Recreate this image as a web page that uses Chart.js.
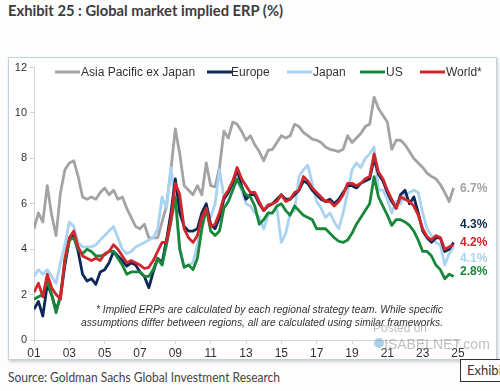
<!DOCTYPE html>
<html>
<head>
<meta charset="utf-8">
<script src="https://cdn.jsdelivr.net/npm/chart.js@4.4.1/dist/chart.umd.min.js"></script>
<style>
    html, body { margin: 0; padding: 0; background: #fdfdfd; }
    body { width: 500px; height: 391px; position: relative; overflow: hidden; }
    #title { position: absolute; left: 8px; top: 0; font: bold 16px Lato, "Liberation Sans", sans-serif; line-height: 20px; color: #3c3c3c; white-space: nowrap; transform-origin: 0 0; }
    #frame { position: absolute; left: 8px; top: 57px; width: 487px; height: 301px; border: 1px solid #c4d0dc; box-shadow: 1px 2px 3px rgba(60, 80, 100, 0.25); background: #fff; }
    #chart { position: absolute; left: 0; top: 0; }
    #source { position: absolute; left: 8px; top: 369px; font: 14px Lato, "Liberation Sans", sans-serif; line-height: 16px; color: #444; white-space: nowrap; transform-origin: 0 0; }
    #tag { position: absolute; left: 460px; top: 359px; width: 50px; height: 23px; border: 1px solid #333; background: #fff; box-sizing: border-box; font: 13px Lato, sans-serif; line-height: 21px; color: #333; padding-left: 6px; }
</style>
</head>
<body>
<div id="title">Exhibit 25 : Global market implied ERP (%)</div>
<div id="frame"><canvas id="chart" width="487" height="301"></canvas></div>
<div id="source">Source: Goldman Sachs Global Investment Research</div>
<div id="tag">Exhibit</div>
<script>
// quarterly observations, 2001 Q1 .. 2024 Q4
const quarters = [];
for (let y = 2001; y < 2025; y++) {
    for (let q = 0; q < 4; q++) quarters.push(y + q / 4);
}

const asiaPacExJapan = [
    4.9, 5.6, 5.2, 6.8,
    5.5, 4.6, 6.5, 7.5,
    7.8, 7.9, 7.2, 6.3,
    6.2, 6.3, 6.2, 6.5,
    6.7, 6.4, 6.6, 6.2,
    6.3, 5.8, 5.4, 5.0,
    4.9, 5.1, 4.5, 4.5,
    4.5, 5.2, 5.9, 7.5,
    9.3, 8.2, 6.8, 6.6,
    6.4, 6.8, 6.4, 7.8,
    6.8, 6.75, 7.6, 9.2,
    8.9, 9.6, 9.5, 9.2,
    8.8, 9.0, 8.6, 8.3,
    7.9, 8.35, 8.4, 8.7,
    9.0, 8.9, 9.0, 9.5,
    9.4, 9.15, 9.0, 8.85,
    8.8, 8.7, 8.5, 8.4,
    8.35, 8.3, 8.4, 9.0,
    8.7, 8.9, 9.1, 9.4,
    9.5, 10.7, 10.2, 9.9,
    9.6, 8.4, 8.8, 8.8,
    8.6, 8.3, 8.0, 7.8,
    7.6, 7.35, 7.2, 7.1,
    6.85, 6.5, 6.1, 6.7
];

const europe = [
    1.35, 1.7, 1.05, 2.45,
    2.0, 1.3, 1.9, 3.3,
    4.4, 4.6, 3.9, 2.9,
    2.6, 2.7, 2.45, 3.0,
    3.1, 3.4, 3.9, 3.7,
    3.5, 3.25, 3.4, 3.3,
    3.0, 2.8, 2.3, 3.0,
    3.6, 3.4, 4.4, 5.6,
    7.1, 5.6, 5.0, 4.8,
    4.8, 4.9, 5.6, 6.0,
    5.1, 4.9, 5.4, 6.2,
    6.5, 6.9, 7.5, 6.8,
    6.2, 6.4, 6.4, 6.0,
    5.7, 5.9, 6.0, 6.2,
    6.4, 6.2, 6.2, 6.4,
    6.6, 7.0, 6.9, 6.6,
    6.4, 6.2, 6.1, 6.2,
    6.0, 6.2, 6.5, 6.8,
    6.8, 6.7, 6.9, 7.0,
    7.1, 8.0, 7.3, 7.0,
    6.5, 6.1, 5.8, 6.4,
    6.6, 6.0, 6.3, 5.6,
    4.8, 4.5, 4.3, 4.5,
    4.5, 3.9, 4.0, 4.3
];

const japan = [
    2.8, 3.1, 2.9, 3.1,
    2.8, 2.5, 3.4, 4.2,
    5.2, 5.0, 4.3, 4.1,
    4.1, 4.1, 4.2, 4.4,
    4.6, 4.8, 5.0, 4.5,
    4.0, 3.8, 3.9, 4.1,
    4.2, 4.3, 4.4, 4.5,
    4.9, 6.3, 5.8, 7.6,
    6.0, 4.0, 3.2, 3.3,
    3.4, 4.2, 5.2, 5.8,
    5.4, 6.0, 7.5, 6.3,
    6.5, 6.9, 7.0, 6.6,
    6.0, 5.9, 5.6, 5.4,
    4.9, 5.5, 5.6, 5.8,
    4.3, 4.7, 5.6, 5.7,
    7.2, 7.5, 7.7, 6.9,
    6.1, 5.8, 5.4, 5.6,
    5.2, 4.9, 5.6, 6.5,
    7.5, 7.8, 7.6, 8.0,
    8.2, 8.5, 6.6, 6.6,
    6.2, 5.6, 6.1, 6.0,
    6.4, 6.5, 6.6, 6.5,
    5.6, 4.9, 4.6, 4.3,
    4.2, 3.3, 3.8, 4.1
];

const us = [
    1.8, 1.9, 2.0, 2.6,
    2.0, 1.2, 2.0, 3.5,
    4.4, 4.5, 4.0, 3.8,
    4.0, 3.9, 3.7, 3.7,
    3.75, 3.9, 3.9, 3.6,
    3.3, 2.9, 3.0, 3.0,
    3.0, 2.8, 2.8, 3.1,
    3.6, 3.3, 4.2, 5.2,
    6.3, 4.0, 3.2, 3.3,
    3.1, 3.6, 4.9, 5.8,
    4.8, 4.6, 4.8, 5.8,
    6.1, 6.6, 7.1, 6.7,
    6.4, 6.3, 5.9, 5.1,
    5.3, 5.6, 5.6, 5.9,
    6.0, 5.7, 5.5, 5.9,
    5.7, 5.5, 5.4, 5.3,
    4.9, 4.9, 4.9, 4.7,
    4.5, 4.35, 4.3, 4.4,
    4.7, 5.1, 5.4, 5.7,
    6.0, 7.2, 6.3, 5.9,
    5.5, 5.05, 5.3, 5.3,
    5.2, 5.05, 4.8, 4.4,
    3.9, 3.9, 3.7, 3.3,
    3.1, 2.7, 2.9, 2.8
];

const world = [
    2.1, 2.5, 1.9, 2.9,
    2.3, 2.0, 1.8, 3.6,
    4.5, 4.8, 4.1, 3.7,
    3.6, 3.5, 3.6, 3.5,
    3.8, 3.9, 4.2, 4.0,
    3.7, 3.4, 3.5, 3.4,
    3.3, 3.15, 3.2, 3.5,
    3.9, 4.3, 4.3, 5.3,
    6.9, 6.4, 4.9, 4.5,
    4.3, 4.6, 5.4, 5.8,
    5.0, 5.1, 5.6, 6.3,
    6.6, 7.0, 7.6, 7.1,
    6.8, 6.5, 6.5, 6.1,
    5.7, 5.95, 6.0, 6.1,
    6.4, 6.1, 6.2, 6.5,
    6.6, 7.2, 7.0, 6.7,
    6.5, 6.3, 6.1, 6.1,
    5.9, 6.1, 6.4, 6.9,
    6.9, 6.8, 6.9, 7.1,
    7.2, 8.2, 7.4, 7.1,
    6.6, 6.2, 5.8, 6.3,
    6.2, 6.1, 5.9, 5.5,
    4.9, 4.55, 4.4, 4.6,
    4.5, 4.0, 4.1, 4.2
];

const xTickLabels = ["01", "03", "05", "07", "09", "11", "13", "15", "17", "19", "21", "23", "25"];
const seriesNames = ["Asia Pacific ex Japan", "Europe", "Japan", "US", "World*"];
const footnote = [
    "* Implied ERPs are calculated by each regional strategy team. While specific",
    "assumptions differ between regions, all are calculated using similar frameworks."
];

const colors = {
    asia: "#a3a3a3",
    europe: "#0c2858",
    japan: "#a9d3f1",
    us: "#18873a",
    world: "#d1262b",
    axis: "#d4d4d4",
    text: "#333333",
};

function series(values) {
    return values.map((v, i) => ({ x: quarters[i], y: v }));
}

// legend and end-of-line labels live inside the plot, so draw them by hand
const legendLayout = [
    { x: 46, textX: 72 },
    { x: 198, textX: 222 },
    { x: 278, textX: 304 },
    { x: 351, textX: 377 },
    { x: 411, textX: 437 },
];
const endLabelPos = [6.65, 5.1, 3.6, 3.0, 4.3]; // in axis units, spread so they don't collide

const decorations = {
    id: "decorations",
    afterDatasetsDraw(chart) {
        const ctx = chart.ctx;
        const yScale = chart.scales.y;
        ctx.save();

        ctx.textBaseline = "middle";
        chart.data.datasets.forEach((ds, i) => {
            const lg = legendLayout[i];
            ctx.strokeStyle = ds.borderColor;
            ctx.lineWidth = 3;
            ctx.beginPath();
            ctx.moveTo(lg.x, 14);
            ctx.lineTo(lg.x + 25, 14);
            ctx.stroke();
            ctx.fillStyle = colors.text;
            ctx.font = '12px "Liberation Sans", Arial, sans-serif';
            ctx.textAlign = "left";
            ctx.fillText(ds.label, lg.textX, 14.5);

            const last = ds.data[ds.data.length - 1].y;
            ctx.font = 'bold 12px "Liberation Sans", Arial, sans-serif';
            ctx.fillStyle = ds.borderColor;
            ctx.fillText(last.toFixed(1) + "%", 451, yScale.getPixelForValue(endLabelPos[i]));
        });

        ctx.fillStyle = colors.text;
        ctx.font = 'italic 11px "Liberation Sans", Arial, sans-serif';
        ctx.textAlign = "right";
        ctx.fillText(footnote[0], 434, 252, 347);
        ctx.fillText(footnote[1], 434, 265, 362);

        // faint watermark
        ctx.textAlign = "left";
        ctx.fillStyle = "rgba(140, 140, 140, 0.55)";
        ctx.font = '12px "Liberation Sans", Arial, sans-serif';
        ctx.fillText("Posted on", 364, 271);
        ctx.font = '14px "Liberation Sans", Arial, sans-serif';
        ctx.fillText("ISABELNET.com", 375, 287);
        ctx.fillStyle = "rgba(90, 160, 210, 0.5)";
        ctx.beginPath();
        ctx.arc(370, 285, 5, 0, Math.PI * 2);
        ctx.fill();

        ctx.restore();
    },
};

const lineStyle = { borderWidth: 2.8, pointRadius: 0, tension: 0, borderJoinStyle: "round", fill: false };

new Chart(document.getElementById("chart").getContext("2d"), {
    type: "line",
    data: {
        datasets: [
            { label: seriesNames[0], data: series(asiaPacExJapan), borderColor: colors.asia, order: 4, ...lineStyle },
            { label: seriesNames[1], data: series(europe), borderColor: colors.europe, order: 2, ...lineStyle },
            { label: seriesNames[2], data: series(japan), borderColor: colors.japan, order: 3, ...lineStyle },
            { label: seriesNames[3], data: series(us), borderColor: colors.us, order: 1, ...lineStyle },
            { label: seriesNames[4], data: series(world), borderColor: colors.world, order: 0, ...lineStyle },
        ],
    },
    options: {
        responsive: false,
        animation: false,
        layout: { padding: { left: 0, right: 38, top: 7, bottom: 0 } },
        plugins: {
            legend: { display: false },
            tooltip: { enabled: false },
        },
        scales: {
            x: {
                type: "linear",
                min: 2001,
                max: 2025,
                afterFit(scale) { scale.height = 19; },
                ticks: {
                    stepSize: 2,
                    autoSkip: false,
                    maxRotation: 0,
                    padding: 2,
                    color: colors.text,
                    font: { family: '"Liberation Sans", Arial, sans-serif', size: 12 },
                    callback: (v) => xTickLabels[Math.round((v - 2001) / 2)],
                },
                grid: { drawOnChartArea: false, drawTicks: true, tickLength: 4, color: colors.axis },
                border: { color: colors.axis },
            },
            y: {
                min: 0,
                max: 12,
                afterFit(scale) { scale.width = 25; },
                ticks: {
                    stepSize: 2,
                    padding: 3,
                    color: colors.text,
                    font: { family: '"Liberation Sans", Arial, sans-serif', size: 11 },
                },
                grid: { drawOnChartArea: false, drawTicks: true, tickLength: 4, color: colors.axis },
                border: { color: colors.axis },
            },
        },
    },
    plugins: [decorations],
});

function fitWidth(id, w) {
    const el = document.getElementById(id);
    const r = el.getBoundingClientRect().width;
    el.style.transform = "scaleX(" + (w / r) + ")";
}
fitWidth("title", 275);
fitWidth("source", 272);
</script>
</body>
</html>
